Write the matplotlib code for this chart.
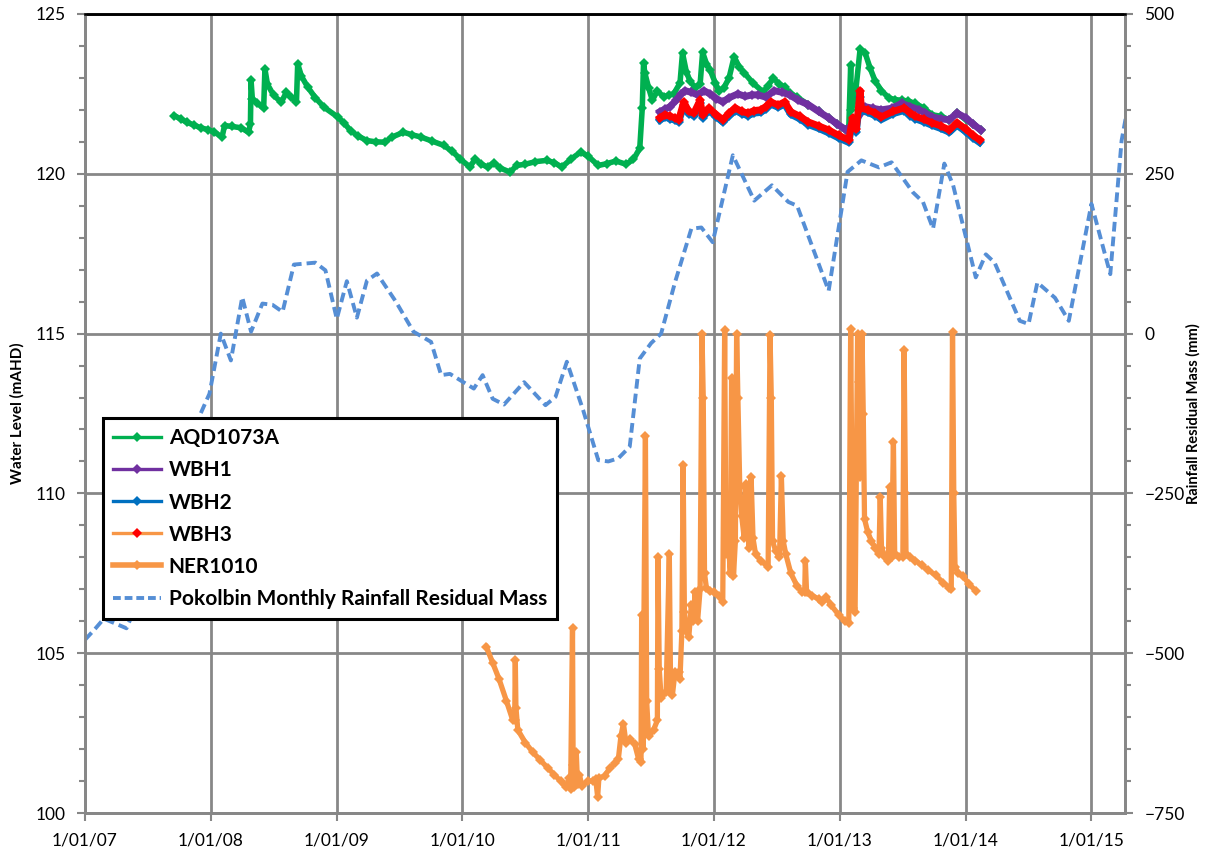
import datetime as dt
import matplotlib
matplotlib.use("Agg")
import matplotlib.pyplot as plt
from matplotlib.lines import Line2D
from matplotlib.ticker import MultipleLocator

# ---------------- data (decimal years) ----------------
aqd_years = [2007.71, 2007.76, 2007.81, 2007.87, 2007.92, 2007.98, 2008.03, 2008.09, 2008.11, 2008.17,
             2008.24, 2008.30, 2008.315, 2008.32, 2008.33, 2008.37, 2008.42, 2008.43, 2008.45, 2008.50,
             2008.56, 2008.60, 2008.64, 2008.68, 2008.69, 2008.72, 2008.77, 2008.83, 2008.90, 2009.01,
             2009.06, 2009.11, 2009.17, 2009.24, 2009.31, 2009.38, 2009.44, 2009.53, 2009.60, 2009.67,
             2009.76, 2009.85, 2009.92, 2009.98, 2010.06, 2010.10, 2010.15, 2010.20, 2010.25, 2010.30,
             2010.38, 2010.43, 2010.50, 2010.58, 2010.67, 2010.73, 2010.79, 2010.86, 2010.94, 2011.00,
             2011.08, 2011.15, 2011.22, 2011.30, 2011.36, 2011.41, 2011.43, 2011.44, 2011.45, 2011.48,
             2011.51, 2011.55, 2011.60, 2011.64, 2011.68, 2011.73, 2011.75, 2011.78, 2011.81, 2011.85,
             2011.89, 2011.91, 2011.94, 2011.97, 2012.01, 2012.04, 2012.08, 2012.12, 2012.16, 2012.20,
             2012.24, 2012.31, 2012.39, 2012.43, 2012.47, 2012.52, 2012.56, 2012.60, 2012.66, 2012.75,
             2012.83, 2012.91, 2012.98, 2013.05, 2013.07, 2013.085, 2013.09, 2013.12, 2013.16, 2013.20,
             2013.24, 2013.28, 2013.33, 2013.39, 2013.44, 2013.49, 2013.54, 2013.60, 2013.67, 2013.73,
             2013.80, 2013.87, 2013.93, 2014.00, 2014.06, 2014.12]
aqd_levels = [121.82, 121.72, 121.61, 121.52, 121.44, 121.38, 121.30, 121.15, 121.51, 121.48,
              121.44, 121.30, 121.56, 122.92, 122.35, 122.20, 122.05, 123.28, 122.80, 122.45,
              122.24, 122.55, 122.40, 122.24, 123.44, 123.05, 122.71, 122.38, 122.08, 121.77,
              121.58, 121.35, 121.18, 121.04, 121.00, 120.99, 121.15, 121.30, 121.22, 121.15,
              121.02, 120.89, 120.70, 120.47, 120.21, 120.47, 120.30, 120.21, 120.35, 120.18,
              120.05, 120.26, 120.30, 120.38, 120.42, 120.35, 120.21, 120.45, 120.68, 120.55,
              120.26, 120.32, 120.40, 120.30, 120.45, 120.80, 122.06, 123.47, 123.16, 122.70,
              122.30, 122.60, 122.40, 122.47, 122.50, 122.84, 123.78, 123.20, 122.90, 122.70,
              122.80, 123.80, 123.45, 123.25, 122.85, 122.60, 122.70, 123.00, 123.66, 123.35,
              123.16, 122.84, 122.56, 122.75, 123.00, 122.80, 122.72, 122.53, 122.40, 122.16,
              121.95, 121.75, 121.55, 121.37, 121.45, 123.40, 122.00, 122.40, 123.90, 123.78,
              123.30, 122.90, 122.60, 122.37, 122.32, 122.30, 122.28, 122.20, 122.05, 121.85,
              121.80, 121.69, 121.90, 121.70, 121.55, 121.37]

wbh1_years = [2011.57, 2011.61, 2011.65, 2011.70, 2011.74, 2011.77, 2011.82, 2011.87, 2011.92, 2011.97,
              2012.02, 2012.07, 2012.12, 2012.19, 2012.25, 2012.30, 2012.35, 2012.41, 2012.48, 2012.54,
              2012.60, 2012.67, 2012.75, 2012.83, 2012.91, 2012.98, 2013.05, 2013.09, 2013.13, 2013.20,
              2013.26, 2013.33, 2013.41, 2013.49, 2013.56, 2013.63, 2013.68, 2013.73, 2013.80, 2013.87,
              2013.93, 2014.00, 2014.06, 2014.12]
wbh1_levels = [121.94, 122.02, 122.10, 122.30, 122.50, 122.60, 122.55, 122.47, 122.60, 122.50,
               122.35, 122.25, 122.38, 122.50, 122.42, 122.47, 122.47, 122.40, 122.60, 122.55,
               122.47, 122.30, 122.16, 121.95, 121.75, 121.55, 121.37, 121.50, 121.69, 122.10,
               122.05, 122.00, 122.05, 122.20, 122.10, 122.00, 121.90, 121.78, 121.72, 121.69,
               121.90, 121.75, 121.55, 121.37]

wbh3_years = [2011.57, 2011.61, 2011.65, 2011.69, 2011.72, 2011.76, 2011.80, 2011.84, 2011.89, 2011.91,
              2011.96, 2012.02, 2012.07, 2012.12, 2012.17, 2012.22, 2012.27, 2012.32, 2012.37, 2012.41,
              2012.45, 2012.51, 2012.56, 2012.61, 2012.68, 2012.75, 2012.83, 2012.91, 2012.99, 2013.07,
              2013.10, 2013.13, 2013.16, 2013.17, 2013.22, 2013.28, 2013.33, 2013.42, 2013.51, 2013.56,
              2013.60, 2013.67, 2013.73, 2013.80, 2013.87, 2013.93, 2014.00, 2014.06, 2014.11]
wbh3_levels = [121.75, 121.85, 121.80, 121.75, 121.69, 122.25, 121.95, 121.90, 122.30, 121.84,
               122.05, 121.85, 121.69, 121.90, 122.06, 121.95, 121.90, 121.98, 122.00, 122.10,
               122.25, 122.15, 122.25, 121.94, 121.80, 121.62, 121.50, 121.37, 121.20, 121.06,
               121.75, 121.40, 122.60, 122.05, 122.00, 121.90, 121.78, 121.95, 122.06, 121.90,
               121.80, 121.70, 121.60, 121.50, 121.37, 121.60, 121.40, 121.20, 121.06]

wbh2_years = wbh3_years
wbh2_levels = [121.68, 121.78, 121.72, 121.68, 121.62, 122.15, 121.88, 121.82, 122.20, 121.76,
               121.98, 121.78, 121.62, 121.82, 121.98, 121.88, 121.82, 121.90, 121.92, 122.02,
               122.18, 122.08, 122.18, 121.86, 121.72, 121.54, 121.42, 121.28, 121.12, 120.98,
               121.65, 121.32, 122.40, 121.98, 121.92, 121.82, 121.70, 121.88, 121.98, 121.82,
               121.72, 121.62, 121.52, 121.42, 121.30, 121.52, 121.32, 121.12, 120.98]

ner_years = [2010.19, 2010.24, 2010.29, 2010.35, 2010.40, 2010.415, 2010.42, 2010.425, 2010.44, 2010.50,
             2010.56, 2010.62, 2010.68, 2010.73, 2010.78, 2010.82, 2010.85, 2010.86, 2010.875, 2010.88,
             2010.89, 2010.905, 2010.915, 2010.93, 2010.95, 2011.00, 2011.04, 2011.06, 2011.075, 2011.085,
             2011.13, 2011.17, 2011.21, 2011.24, 2011.26, 2011.28, 2011.30, 2011.33, 2011.37, 2011.40,
             2011.42, 2011.425, 2011.435, 2011.455, 2011.465, 2011.48, 2011.52, 2011.55, 2011.555, 2011.565,
             2011.58, 2011.62, 2011.645, 2011.655, 2011.67, 2011.69, 2011.72, 2011.73, 2011.745, 2011.755,
             2011.765, 2011.78, 2011.80, 2011.82, 2011.835, 2011.85, 2011.87, 2011.89, 2011.905, 2011.915,
             2011.925, 2011.94, 2011.97, 2012.00, 2012.04, 2012.07, 2012.085, 2012.095, 2012.11, 2012.13,
             2012.14, 2012.155, 2012.17, 2012.18, 2012.19, 2012.205, 2012.22, 2012.24, 2012.255, 2012.265,
             2012.28, 2012.295, 2012.31, 2012.33, 2012.37, 2012.43, 2012.445, 2012.455, 2012.465, 2012.49,
             2012.52, 2012.535, 2012.55, 2012.57, 2012.61, 2012.66, 2012.70, 2012.72, 2012.725, 2012.735,
             2012.78, 2012.83, 2012.86, 2012.89, 2012.93, 2012.99, 2013.04, 2013.07, 2013.085, 2013.095,
             2013.105, 2013.12, 2013.14, 2013.15, 2013.16, 2013.175, 2013.185, 2013.195, 2013.22, 2013.25,
             2013.28, 2013.31, 2013.32, 2013.33, 2013.36, 2013.385, 2013.395, 2013.41, 2013.425, 2013.435,
             2013.47, 2013.50, 2013.51, 2013.52, 2013.525, 2013.56, 2013.60, 2013.65, 2013.70, 2013.76,
             2013.82, 2013.87, 2013.885, 2013.895, 2013.905, 2013.915, 2013.94, 2013.98, 2014.03, 2014.08]
ner_levels = [105.2, 104.7, 104.2, 103.5, 102.9, 102.9, 104.8, 103.3, 102.6, 102.2,
              101.9, 101.65, 101.4, 101.2, 101.0, 100.8, 101.1, 100.75, 105.8, 101.5,
              100.8, 101.9, 100.9, 101.2, 100.85, 101.0, 101.0, 101.05, 100.5, 101.1,
              101.15, 101.4, 101.55, 101.7, 102.4, 102.8, 102.2, 102.3, 102.15, 101.7,
              101.6, 106.2, 102.0, 111.8, 103.5, 102.4, 102.6, 102.9, 108.0, 104.5,
              103.6, 103.8, 108.1, 104.0, 103.7, 104.4, 104.4, 104.2, 105.7, 110.9,
              106.3, 105.7, 105.5, 106.5, 106.0, 106.9, 106.0, 107.0, 115.0, 113.0,
              107.5, 107.05, 106.95, 106.9, 106.8, 106.6, 115.1, 108.1, 108.8, 107.5,
              113.6, 107.4, 108.5, 115.0, 113.0, 110.2, 109.3, 108.6, 110.3, 108.8,
              108.3, 110.5, 108.6, 108.1, 107.9, 107.7, 114.95, 113.0, 108.5, 108.2,
              108.0, 110.55, 108.5, 108.1, 107.5, 107.1, 106.9, 106.9, 107.9, 106.9,
              106.8, 106.7, 106.6, 106.75, 106.5, 106.2, 106.0, 105.95, 115.15, 110.0,
              106.4, 106.3, 115.0, 113.5, 110.5, 115.0, 112.5, 109.2, 108.8, 108.5,
              108.3, 108.1, 109.9, 108.3, 108.0, 107.9, 110.2, 108.0, 111.6, 108.1,
              108.0, 108.0, 114.5, 110.0, 108.1, 108.0, 107.9, 107.75, 107.6, 107.45,
              107.2, 107.05, 107.0, 115.05, 110.0, 107.7, 107.5, 107.4, 107.15, 106.95]

rain_years = [2007.00, 2007.08, 2007.15, 2007.33, 2007.42, 2007.50, 2007.58, 2007.67, 2007.75, 2007.83,
              2007.92, 2007.99, 2008.08, 2008.16, 2008.25, 2008.32, 2008.41, 2008.49, 2008.57, 2008.66,
              2008.83, 2008.91, 2009.00, 2009.08, 2009.16, 2009.24, 2009.32, 2009.47, 2009.61, 2009.75,
              2009.83, 2009.90, 2010.09, 2010.16, 2010.24, 2010.33, 2010.49, 2010.66, 2010.74, 2010.83,
              2010.96, 2011.08, 2011.16, 2011.24, 2011.33, 2011.41, 2011.50, 2011.58, 2011.69, 2011.82,
              2011.90, 2011.99, 2012.15, 2012.32, 2012.46, 2012.59, 2012.66, 2012.91, 2013.06, 2013.17,
              2013.31, 2013.41, 2013.58, 2013.66, 2013.74, 2013.83, 2013.90, 2014.08, 2014.16, 2014.23,
              2014.43, 2014.50, 2014.57, 2014.71, 2014.82, 2015.00, 2015.15, 2015.24, 2015.28]
rain_mm = [-479, -462, -446, -461, -420, -380, -330, -270, -220, -170,
           -125, -94, 0, -42, 57, 3, 47, 45, 34, 108,
           111, 99, 23, 82, 25, 83, 94, 50, 3, -13,
           -65, -63, -86, -65, -102, -111, -76, -112, -99, -44,
           -120, -198, -200, -195, -177, -39, -15, 0, 80, 164,
           166, 143, 279, 208, 232, 206, 200, 67, 253, 271,
           260, 268, 221, 206, 164, 266, 232, 88, 124, 111,
           20, 15, 80, 56, 20, 203, 93, 302, 345]

year_ticks = [2007, 2008, 2009, 2010, 2011, 2012, 2013, 2014, 2015]
year_tick_labels = ["1/01/07", "1/01/08", "1/01/09", "1/01/10", "1/01/11",
                    "1/01/12", "1/01/13", "1/01/14", "1/01/15"]


def to_date(y):
    yi = int(y)
    start = dt.datetime(yi, 1, 1)
    end = dt.datetime(yi + 1, 1, 1)
    return start + (end - start) * (y - yi)


def dates(lst):
    return [to_date(v) for v in lst]


# ---------------- figure ----------------
W, H = 1210, 850
fig = plt.figure(figsize=(W / 100, H / 100), dpi=100)
L, R, T, B = 85, 1125, 14, 813
ax = fig.add_axes([L / W, 1 - B / H, (R - L) / W, (B - T) / H])
ax2 = ax.twinx()

GREEN = "#00B050"
PURPLE = "#7030A0"
BLUE = "#0070C0"
RED = "#FF0000"
ORANGE = "#F79646"
DASH = "#558ED5"
GRID = "#878787"

mk = dict(marker="D", markersize=5, markeredgewidth=0)
ax.plot(dates(ner_years), ner_levels, color=ORANGE, lw=3.8, zorder=3, markerfacecolor=ORANGE, **mk)
ax.plot(dates(aqd_years), aqd_levels, color=GREEN, lw=4.0, zorder=4, markerfacecolor=GREEN, **mk)
ax.plot(dates(wbh1_years), wbh1_levels, color=PURPLE, lw=5, zorder=5, markerfacecolor=PURPLE, **mk)
ax.plot(dates(wbh2_years), wbh2_levels, color=BLUE, lw=5, zorder=6, markerfacecolor=BLUE, **mk)
ax.plot(dates(wbh3_years), wbh3_levels, color=RED, lw=5, zorder=7, markerfacecolor=RED, **mk)

ax2.plot(dates(rain_years), rain_mm, color=DASH, lw=2.8, dashes=(2.5, 1.3), zorder=2)

# axes limits
ax.set_xlim(to_date(2007.0), to_date(2015.267))
ax.set_ylim(100, 125)
ax2.set_ylim(-750, 500)

ax.set_xticks([to_date(y) for y in year_ticks])
ax.set_xticklabels(year_tick_labels)
ax.yaxis.set_major_locator(MultipleLocator(5))
ax.yaxis.set_minor_locator(MultipleLocator(1))
ax2.yaxis.set_major_locator(MultipleLocator(250))
ax2.yaxis.set_minor_locator(MultipleLocator(50))

ax.grid(True, which="major", color=GRID, lw=2.0, zorder=0)
ax.set_axisbelow(True)

for lab in ax.get_xticklabels() + ax.get_yticklabels() + ax2.get_yticklabels():
    lab.set_fontfamily("Lato")
    lab.set_fontsize(12.5)

ax.tick_params(axis="x", which="major", direction="out", length=6, width=1.5, color=GRID, pad=8)
ax.tick_params(axis="y", which="major", direction="out", length=6, width=1.5, color=GRID, pad=8)
ax.tick_params(axis="y", which="minor", direction="out", length=4, width=1.5, color=GRID)
ax2.tick_params(axis="y", which="major", direction="out", length=6, width=1.5, color=GRID, pad=8)
ax2.tick_params(axis="y", which="minor", direction="out", length=4, width=1.5, color=GRID)

for a in (ax, ax2):
    for s in ("left", "right", "bottom"):
        a.spines[s].set_color(GRID)
        a.spines[s].set_linewidth(2.0)
    a.spines["top"].set_color("black")
    a.spines["top"].set_linewidth(1.8)

ax.set_ylabel("Water Level (mAHD)", fontfamily="Lato", fontweight="bold", fontsize=11)
ax.yaxis.set_label_coords((25 - L) / (R - L), 0.5)
ax2.set_ylabel("Rainfall Residual Mass (mm)", fontfamily="Lato", fontweight="bold", fontsize=10.5,
               rotation=90)
ax2.yaxis.set_label_coords((1186 - L) / (R - L), 0.5)

# legend
handles = [
    Line2D([], [], color=GREEN, lw=2.4, marker="D", markersize=5, markerfacecolor=GREEN, markeredgewidth=0),
    Line2D([], [], color=PURPLE, lw=2.4, marker="D", markersize=5, markerfacecolor=PURPLE, markeredgewidth=0),
    Line2D([], [], color=BLUE, lw=2.4, marker="D", markersize=5, markerfacecolor=BLUE, markeredgewidth=0),
    Line2D([], [], color=ORANGE, lw=2.4, marker="D", markersize=5.5, markerfacecolor=RED, markeredgewidth=0),
    Line2D([], [], color=ORANGE, lw=4.0, marker="D", markersize=5, markerfacecolor=ORANGE, markeredgewidth=0),
    Line2D([], [], color=DASH, lw=2.8, dashes=(2.0, 1.0)),
]
labels = ["AQD1073A", "WBH1", "WBH2", "WBH3", "NER1010", "Pokolbin Monthly Rainfall Residual Mass"]
leg = ax2.legend(handles, labels, loc="upper left",
                 bbox_to_anchor=(103 / W, 1 - 418 / H), bbox_transform=fig.transFigure,
                 borderaxespad=0, fancybox=False, framealpha=1, edgecolor="black",
                 prop=dict(family="Lato", weight="bold", size=15),
                 handlelength=2.3, handletextpad=0.35, labelspacing=0.58,
                 borderpad=0.5)
leg.get_frame().set_linewidth(2.2)
leg.set_zorder(20)

fig.savefig("out.png", dpi=100)
